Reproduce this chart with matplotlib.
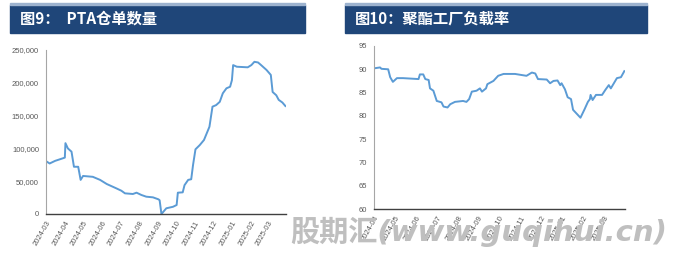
import numpy as np
import pandas as pd
import matplotlib
matplotlib.use("Agg")
import matplotlib.pyplot as plt
import matplotlib.dates as mdates
from matplotlib.patches import Rectangle
from matplotlib.ticker import FuncFormatter

plt.rcParams['font.family'] = ['Liberation Sans Narrow', 'Liberation Sans', 'DejaVu Sans']

# PTA warehouse receipts (days after 2024-03-01, volume)
pta_days = [0, 1, 6, 15, 28, 31, 32, 36, 42, 46, 53, 57, 61, 77, 89, 100, 116, 124, 130,
            143, 149, 157, 165, 176, 185, 187, 190, 198, 209, 215, 217, 225, 228, 234, 239,
            242, 246, 253, 260, 269, 274, 280, 286, 291, 297, 303, 306, 308, 314, 332, 338,
            343, 349, 354, 363, 370, 373, 379, 383, 389, 394]
pta_vals = [80000, 80000, 77000, 81000, 85000, 86000, 108000, 100000, 95000, 72000, 72000,
            52000, 58000, 56700, 52000, 45700, 39000, 35500, 31500, 30500, 32500, 29000, 26400,
            25400, 22400, 21000, 0, 8700, 11000, 13700, 32500, 33000, 44000, 52000, 53000,
            74700, 98600, 105000, 112800, 133000, 163600, 166000, 171000, 184000, 191600,
            194000, 204000, 227000, 224500, 223600, 227000, 232000, 231000, 227000, 219500,
            212000, 186000, 181000, 174000, 170000, 164600]

# polyester plant operating rate (days after 2024-04-01, %)
pet_days = [0, 9, 11, 21, 24, 28, 34, 43, 66, 68, 73, 76, 81, 83, 88, 93, 100, 103, 109, 113,
            120, 132, 137, 141, 145, 152, 157, 160, 166, 168, 177, 184, 192, 209, 226, 234,
            239, 243, 256, 261, 266, 272, 276, 278, 283, 287, 292, 295, 306, 312, 317, 320,
            321, 324, 329, 338, 343, 348, 351, 360, 366, 371]
pet_vals = [90.2, 90.4, 90.1, 90.0, 88.3, 87.3, 88.1, 88.1, 87.9, 88.9, 88.9, 87.9, 87.7,
            85.9, 85.4, 83.2, 82.9, 82.0, 81.8, 82.5, 83.0, 83.2, 83.0, 83.6, 85.2, 85.4,
            85.9, 85.2, 85.9, 86.8, 87.5, 88.6, 89.0, 89.0, 88.6, 89.3, 89.1, 87.9, 87.8,
            87.0, 87.5, 87.6, 86.6, 87.0, 85.7, 84.0, 83.6, 81.3, 79.6, 81.4, 83.0, 83.6,
            84.5, 83.4, 84.5, 84.5, 85.6, 86.6, 85.9, 88.1, 88.3, 89.6]

pta_dates = pd.Timestamp('2024-03-01') + pd.to_timedelta(pta_days, unit='D')
pet_dates = pd.Timestamp('2024-04-01') + pd.to_timedelta(pet_days, unit='D')

titles = ['图9：  PTA仓单数量', '图10：聚酯工厂负载率']
line_color = '#5B9BD5'
bar_color = '#1F4679'
tick_color = '#595959'

fig = plt.figure(figsize=(6.89, 2.62), dpi=100)

# header bars
for x0, w, t in [(10, 295, titles[0]), (345, 302, titles[1])]:
    fig.patches.append(Rectangle((x0 / 689, 1 - 33 / 262), w / 689, 28 / 262,
                                 transform=fig.transFigure, color=bar_color, zorder=0))
    fig.patches.append(Rectangle((x0 / 689, 1 - 5 / 262), w / 689, 1.5 / 262,
                                 transform=fig.transFigure, color='#9DB3CF', zorder=0))
    fig.text((x0 + 10) / 689, 1 - 19 / 262, t, color='white', fontsize=11, fontweight='bold',
             va='center', ha='left', family=['Noto Sans CJK SC', 'DejaVu Sans'])

ax1 = fig.add_axes([46 / 689, 1 - 214 / 262, 240 / 689, 164 / 262])
ax1.plot(pta_dates, pta_vals, color=line_color, lw=1.4)
ax1.set_ylim(0, 250000)
ax1.set_yticks(np.arange(0, 250001, 50000))
ax1.yaxis.set_major_formatter(FuncFormatter(lambda v, p: f'{int(v):,}'))
ax1.set_xlim(pd.Timestamp('2024-03-01'), pd.Timestamp('2025-03-31'))
ax1.xaxis.set_major_locator(mdates.MonthLocator())

ax2 = fig.add_axes([374 / 689, 1 - 209 / 262, 251 / 689, 163 / 262])
ax2.plot(pet_dates, pet_vals, color=line_color, lw=1.4)
ax2.set_ylim(60, 95)
ax2.set_yticks(np.arange(60, 96, 5))
ax2.set_xlim(pd.Timestamp('2024-04-01'), pd.Timestamp('2025-04-08'))
# labels every 31 days, like the source axis
ax2.set_xticks(pd.Timestamp('2024-04-01') + pd.to_timedelta(np.arange(12) * 31, unit='D'))

for ax in (ax1, ax2):
    ax.xaxis.set_major_formatter(mdates.DateFormatter('%Y-%m'))
    for s in ('top', 'right'):
        ax.spines[s].set_visible(False)
    ax.spines['left'].set_color('#A6A6A6')
    ax.spines['bottom'].set_color('#404040')
    ax.spines['bottom'].set_linewidth(1.0)
    ax.tick_params(length=0, labelsize=5.5, labelcolor=tick_color, pad=4)
    ax.tick_params(axis='y', pad=5)
    for lab in ax.get_xticklabels():
        lab.set_rotation(60)
        lab.set_ha('right')
        lab.set_va('top')
        lab.set_rotation_mode('anchor')
    ax.set_facecolor('none')

# watermark
fig.text(479 / 689, 1 - 232 / 262, '股期汇(www.guqihui.cn)', color='#BFBFBF', fontsize=21,
         fontweight='bold', style='italic', ha='center', va='center', zorder=10,
         family=['DejaVu Sans', 'Noto Sans CJK SC'])

fig.savefig('out.png', dpi=100)
